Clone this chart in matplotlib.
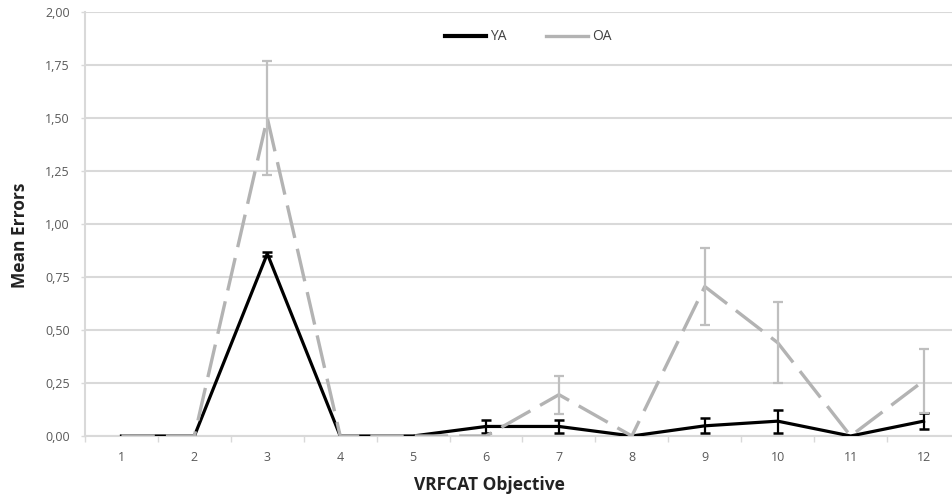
import matplotlib
matplotlib.use("Agg")
import matplotlib.pyplot as plt
import numpy as np
from matplotlib.lines import Line2D

plt.rcParams['font.family'] = ['Open Sans', 'DejaVu Sans']
plt.rcParams['lines.scale_dashes'] = False

objectives = [1, 2, 3, 4, 5, 6, 7, 8, 9, 10, 11, 12]
ya_mean = [0, 0, 0.86, 0, 0, 0.045, 0.045, 0, 0.048, 0.07, 0, 0.07]
ya_err = [0, 0, 0.01, 0, 0, 0.032, 0.032, 0, 0.035, 0.054, 0, 0.038]
oa_mean = [0, 0, 1.50, 0, 0, 0, 0.195, 0, 0.705, 0.44, 0, 0.26]
oa_err = [0, 0, 0.27, 0, 0, 0, 0.09, 0, 0.18, 0.19, 0, 0.15]
yticks = [0, 0.25, 0.5, 0.75, 1.0, 1.25, 1.5, 1.75, 2.0]
ytick_labels = ["0,00", "0,25", "0,50", "0,75", "1,00", "1,25", "1,50", "1,75", "2,00"]

W, H = 952, 500
fig = plt.figure(figsize=(W / 100, H / 100), dpi=100)
ax_l, ax_b, ax_w, ax_h = 85, 64, 875, 424
ax = fig.add_axes([ax_l / W, ax_b / H, ax_w / W, ax_h / H])

x = np.array(objectives)
grid_c = '#d9d9d9'
text_c = '#595959'

# YA
ax.plot(x, ya_mean, color='black', lw=2.3, zorder=3)
mask = np.array(ya_err) > 0
ax.errorbar(x[mask], np.array(ya_mean)[mask], yerr=np.array(ya_err)[mask], fmt='none',
            ecolor='black', elinewidth=1.6, capsize=3.5, capthick=1.8, zorder=4)

# OA
ax.plot(x, oa_mean, color='#b3b3b3', lw=2.4, dashes=(24, 8), zorder=5)
mask = np.array(oa_err) > 0
ax.errorbar(x[mask], np.array(oa_mean)[mask], yerr=np.array(oa_err)[mask], fmt='none',
            ecolor='#bfbfbf', elinewidth=1.6, capsize=3.5, capthick=1.6, zorder=6)

handles = [Line2D([], [], color='black', lw=3.0), Line2D([], [], color='#b3b3b3', lw=2.4)]
leg = ax.legend(handles, ['YA', 'OA'], loc='center', bbox_to_anchor=((528 - ax_l) / ax_w, (H - 37 - ax_b) / ax_h),
                ncol=2, frameon=False, fontsize=10, handlelength=3.0, columnspacing=2.8,
                handletextpad=0.3, borderpad=0, borderaxespad=0)
for t in leg.get_texts():
    t.set_color('#404040')

ax.set_xlim(0.5, 12.5)
ax.set_ylim(0, 2.0)
ax.set_yticks(yticks)
ax.set_yticklabels(ytick_labels)
ax.set_xticks(x)
ax.set_xticklabels([str(v) for v in objectives])
ax.set_xticks(np.arange(0.5, 13, 1), minor=True)
ax.tick_params(axis='x', which='major', length=0, pad=11, labelsize=9, labelcolor=text_c)
ax.tick_params(axis='x', which='minor', length=4, color=grid_c, width=1)
ax.tick_params(axis='y', which='major', length=3, color=grid_c, width=1, labelsize=9,
               labelcolor=text_c, pad=8)

ax.yaxis.grid(True, color=grid_c, lw=1.5, zorder=0)
ax.set_axisbelow(True)
for s in ['top', 'right']:
    ax.spines[s].set_visible(False)
ax.spines['left'].set_color(grid_c)
ax.spines['left'].set_linewidth(1.5)
ax.spines['bottom'].set_color(grid_c)
ax.spines['bottom'].set_linewidth(1.5)

ax.set_ylabel('Mean Errors', fontsize=12.5, fontweight='bold', color='#222222', va='center')
ax.yaxis.set_label_coords((20 - ax_l) / ax_w, (H - 235.5 - ax_b) / ax_h)
ax.set_xlabel('VRFCAT Objective', fontsize=12.5, fontweight='bold', color='#222222', va='center')
ax.xaxis.set_label_coords((489 - ax_l) / ax_w, (H - 485 - ax_b) / ax_h)

fig.savefig('out.png', dpi=100)
